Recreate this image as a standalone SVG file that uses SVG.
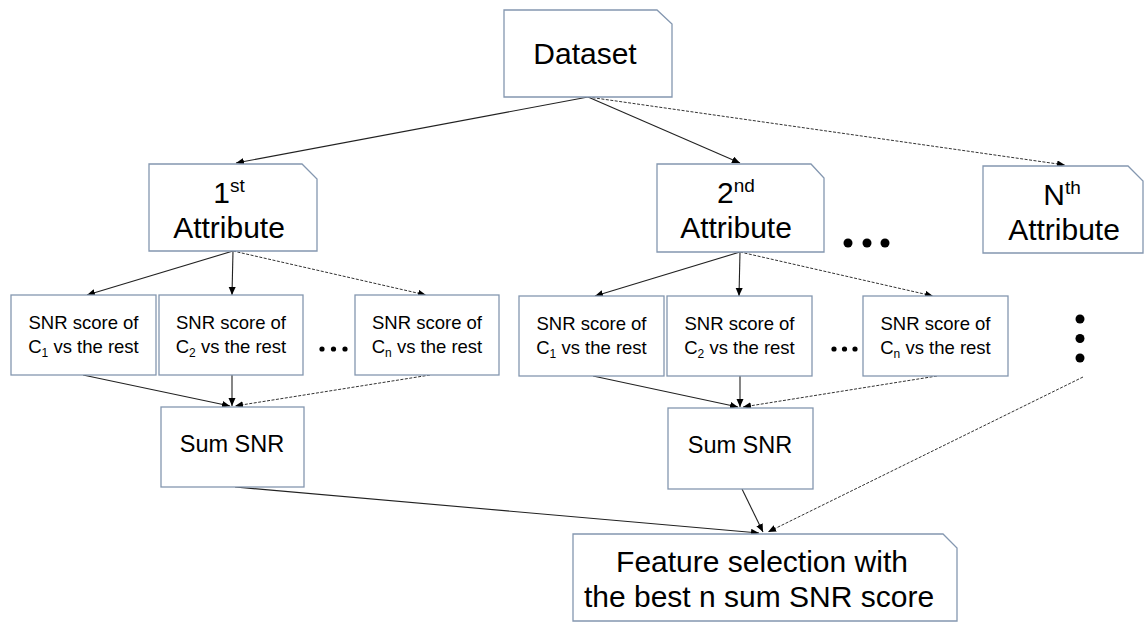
<svg xmlns="http://www.w3.org/2000/svg" width="1147" height="623" viewBox="0 0 1147 623">
<style>
.box{fill:#fff;stroke:#8497B0;stroke-width:1.3}
.t{font-family:"Liberation Sans",Arial,sans-serif;fill:#000;text-anchor:middle}
.big{font-size:30px}
.mid{font-size:23.5px}
.sm{font-size:18.5px}
.ln{fill:none;stroke:#222;stroke-width:1.1;marker-end:url(#ah)}
.ds{fill:none;stroke:#333;stroke-width:1;stroke-dasharray:3 1.5;marker-end:url(#ah)}
.dot{fill:#000}
</style>
<defs>
<marker id="ah" markerUnits="userSpaceOnUse" markerWidth="9" markerHeight="8" refX="8" refY="3.5" orient="auto">
<path d="M0,0 L8,3.5 L0,7 z" fill="#000"/>
</marker>
</defs>
<g id="connectors">
<path class="ln" d="M588,97 L236,163"/>
<path class="ln" d="M588,97 L740,163"/>
<path class="ds" d="M588,97 L1065,165"/>
<path class="ln" d="M233,251 L87,295"/>
<path class="ln" d="M233,251 L232,295"/>
<path class="ds" d="M233,251 L426,295"/>
<path class="ln" d="M740,252 L595,296"/>
<path class="ln" d="M740,252 L739,296"/>
<path class="ds" d="M740,252 L933,296"/>
<path class="ln" d="M83,375 L230,406"/>
<path class="ln" d="M232,375 L232,406"/>
<path class="ds" d="M430,375 L235,406"/>
<path class="ln" d="M593,376 L738,407"/>
<path class="ln" d="M740,376 L740,407"/>
<path class="ds" d="M937,376 L743,407"/>
<path class="ln" d="M235,487 L759,533"/>
<path class="ln" d="M742,489 L763,532"/>
<path class="ds" d="M1083,377 L768,532"/>
</g>
<g id="dataset">
<path class="box" d="M504,10 H657 L672,24 V97 H504 Z"/>
<text class="t big" x="585" y="64">Dataset</text>
</g>
<g id="attr1">
<path class="box" d="M149,164 H302 L317,179 V251 H149 Z"/>
<text class="t big" x="229" y="203">1<tspan font-size="19" dy="-11">st</tspan></text>
<text class="t big" x="229" y="238">Attribute</text>
</g>
<g id="attr2">
<path class="box" d="M657,164 H811 L824,178 V252 H657 Z"/>
<text class="t big" x="736" y="203">2<tspan font-size="19" dy="-11">nd</tspan></text>
<text class="t big" x="736" y="238">Attribute</text>
</g>
<g id="attrN">
<path class="box" d="M983,166 H1128 L1143,181 V253 H983 Z"/>
<text class="t big" x="1062" y="205">N<tspan font-size="19" dy="-11">th</tspan></text>
<text class="t big" x="1064" y="240">Attribute</text>
</g>
<g id="dots-attr">
<circle class="dot" cx="848" cy="243" r="4.5"/>
<circle class="dot" cx="867" cy="243" r="4.5"/>
<circle class="dot" cx="885" cy="243" r="4.5"/>
</g>
<g id="snr1a">
<rect class="box" x="11" y="295" width="145" height="80"/>
<text class="t sm" x="83.5" y="329">SNR score of</text>
<text class="t sm" x="83.5" y="353">C<tspan font-size="12" dy="4">1</tspan><tspan dy="-4"> vs the rest</tspan></text>
</g>
<g id="snr2a">
<rect class="box" x="159" y="295" width="144" height="80"/>
<text class="t sm" x="231" y="329">SNR score of</text>
<text class="t sm" x="231" y="353">C<tspan font-size="12" dy="4">2</tspan><tspan dy="-4"> vs the rest</tspan></text>
</g>
<g id="dots-row1">
<circle class="dot" cx="322" cy="349" r="2.6"/>
<circle class="dot" cx="333.5" cy="349" r="2.6"/>
<circle class="dot" cx="345" cy="349" r="2.6"/>
</g>
<g id="snr3a">
<rect class="box" x="355" y="295" width="144" height="80"/>
<text class="t sm" x="427" y="329">SNR score of</text>
<text class="t sm" x="427" y="353">C<tspan font-size="12" dy="4">n</tspan><tspan dy="-4"> vs the rest</tspan></text>
</g>
<g id="sum1">
<rect class="box" x="161" y="407" width="143" height="80"/>
<text class="t mid" x="232" y="452">Sum SNR</text>
</g>
<g id="snr1b">
<rect class="box" x="519" y="296" width="145" height="80"/>
<text class="t sm" x="591.5" y="330">SNR score of</text>
<text class="t sm" x="591.5" y="354">C<tspan font-size="12" dy="4">1</tspan><tspan dy="-4"> vs the rest</tspan></text>
</g>
<g id="snr2b">
<rect class="box" x="667" y="296" width="145" height="80"/>
<text class="t sm" x="739.5" y="330">SNR score of</text>
<text class="t sm" x="739.5" y="354">C<tspan font-size="12" dy="4">2</tspan><tspan dy="-4"> vs the rest</tspan></text>
</g>
<g id="dots-row2">
<circle class="dot" cx="834" cy="349" r="2.6"/>
<circle class="dot" cx="844.5" cy="349" r="2.6"/>
<circle class="dot" cx="855" cy="349" r="2.6"/>
</g>
<g id="snr3b">
<rect class="box" x="863" y="296" width="145" height="80"/>
<text class="t sm" x="935.5" y="330">SNR score of</text>
<text class="t sm" x="935.5" y="354">C<tspan font-size="12" dy="4">n</tspan><tspan dy="-4"> vs the rest</tspan></text>
</g>
<g id="dots-vertical">
<circle class="dot" cx="1080" cy="319" r="4.5"/>
<circle class="dot" cx="1080" cy="338.5" r="4.5"/>
<circle class="dot" cx="1080" cy="358" r="4.5"/>
</g>
<g id="sum2">
<rect class="box" x="668" y="408" width="145" height="81"/>
<text class="t mid" x="740" y="453">Sum SNR</text>
</g>
<g id="feature">
<path class="box" d="M573,534 H943 L957,548 V621 H573 Z"/>
<text class="t big" x="762" y="572">Feature selection with</text>
<text class="t big" x="759" y="607">the best n sum SNR score</text>
</g>
</svg>
